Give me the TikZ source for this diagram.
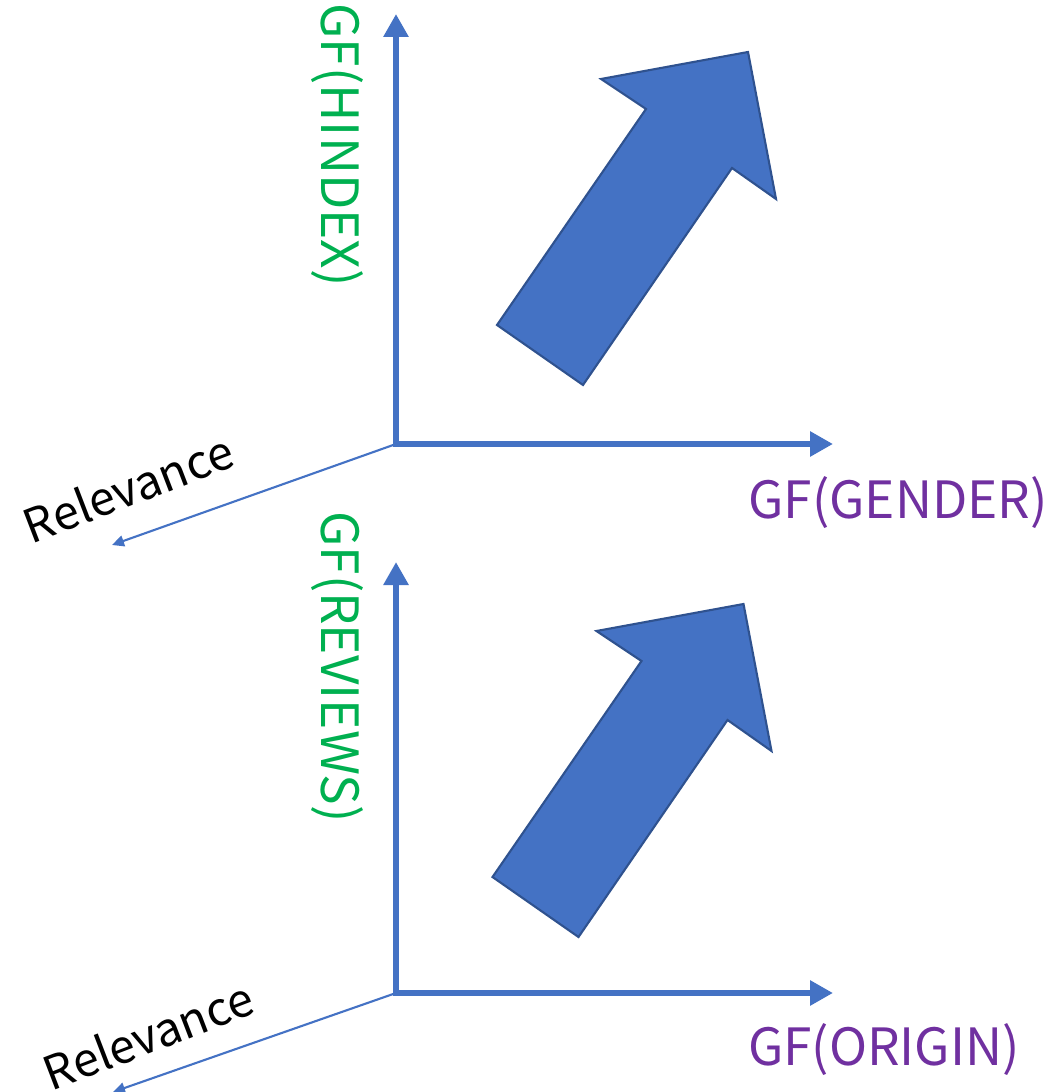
\documentclass[tikz,border=0pt]{standalone}
\usepackage{fontspec}
\newfontfamily\labelfont{Noto Sans CJK JP}
\usetikzlibrary{arrows.meta,positioning}
\definecolor{axisblue}{HTML}{4472C4}
\definecolor{arrowedge}{HTML}{2F528F}
\definecolor{gfgreen}{HTML}{00B050}
\definecolor{gfpurple}{HTML}{7030A0}
\tikzset{
    axis/.style={
        draw=axisblue,
        line width=1.7pt,
        line cap=rect,
        -{Triangle[length=0.23cm,width=0.24cm]},
    },
    rel/.style={
        draw=axisblue,
        line width=0.6pt,
        -{Triangle[length=0.12cm,width=0.11cm]},
    },
    bigarrow/.style={
        fill=axisblue,
        draw=arrowedge,
        line width=0.6pt,
        line join=miter,
    },
    lab/.style={
        inner sep=0pt,
        font=\labelfont\fontsize{14.6}{18}\selectfont,
    },
    ylab/.style={
        lab,
        text=gfgreen,
        rotate=-90,
    },
    xlab/.style={
        lab,
        text=gfpurple,
    },
    rlab/.style={
        inner sep=0pt,
        font=\labelfont\fontsize{13.2}{16}\selectfont,
        text=black,
        rotate=21,
    },
}

\begin{document}
\begin{tikzpicture}[x=0.01cm,y=-0.01cm]
    \useasboundingbox (0,0) rectangle (1058,1092);

    % upper panel
    \coordinate (O1) at (396,444);
    \coordinate (Y1) at (396,14);
    \coordinate (X1) at (833,444);
    \coordinate (R1) at (112,545);
    \draw[axis] (O1) -- (Y1);
    \draw[axis] (O1) -- (X1);
    \draw[rel] (O1) -- (R1);
    \node[ylab] (L1) at (337,145) {GF(HINDEX)};
    \node[xlab] (G1) at (898,503) {GF(GENDER)};
    \node[rlab] (V1) at (128,488) {Relevance};
    \draw[bigarrow] (497,325) -- (583,385) -- (732,168) -- (776,199)
        -- (748,52) -- (601,79) -- (646,109) -- cycle;

    % lower panel
    \coordinate (O2) at (396,993);
    \coordinate (Y2) at (396,562);
    \coordinate (X2) at (833,993);
    \coordinate (R2) at (113,1092);
    \draw[axis] (O2) -- (Y2);
    \draw[axis] (O2) -- (X2);
    \draw[rel] (O2) -- (R2);
    \node[ylab] (L2) at (337,667) {GF(REVIEWS)};
    \node[xlab] (G2) at (884,1050) {GF(ORIGIN)};
    \node[rlab] (V2) at (148,1035) {Relevance};
    \begin{scope}[shift={(-4.5,552)}]
        \draw[bigarrow] (497,325) -- (583,385) -- (732,168) -- (776,199)
            -- (748,52) -- (601,79) -- (646,109) -- cycle;
    \end{scope}
\end{tikzpicture}
\end{document}
